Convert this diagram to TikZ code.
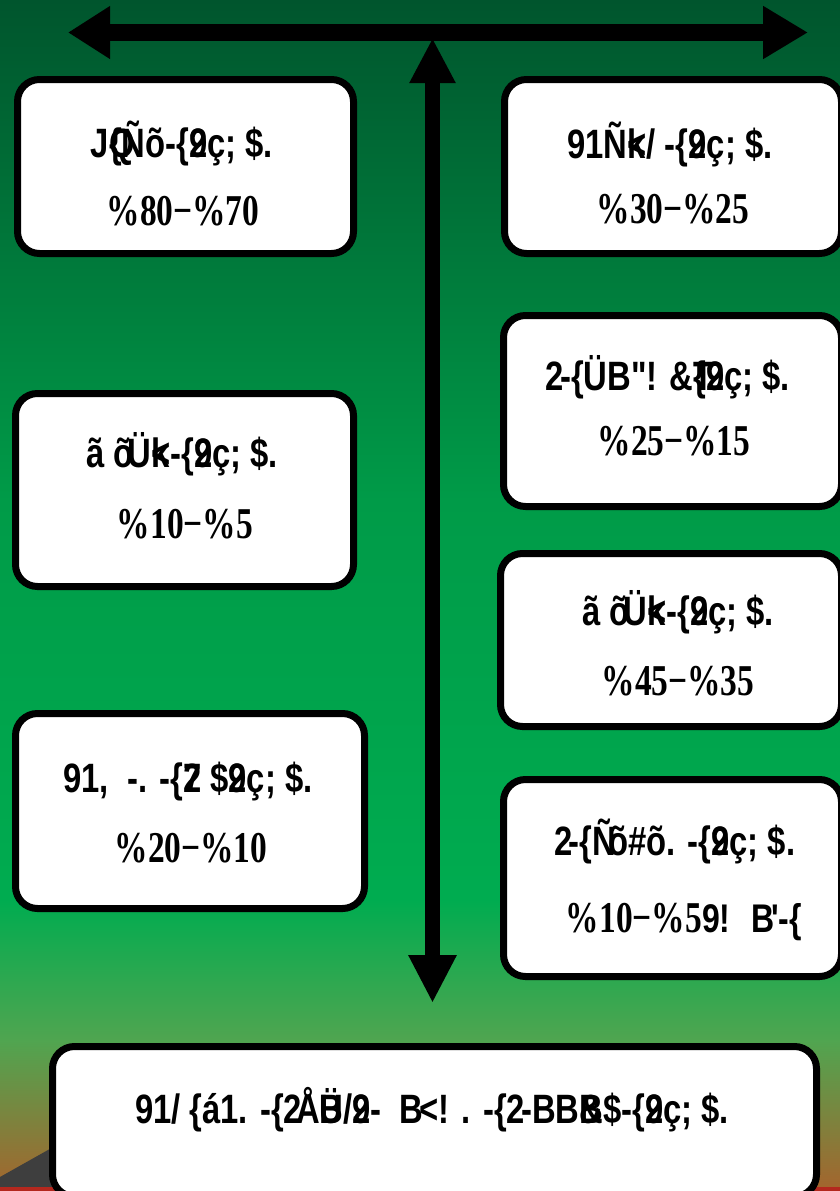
\documentclass[tikz,border=0pt]{standalone}
\usepackage{fontspec}
\usetikzlibrary{arrows.meta}
\newfontfamily\headfont{Liberation Sans}[UprightFont=* Bold, FakeStretch=0.8, Ligatures=TeXOff]
\newfontfamily\sharefont{Liberation Serif}[UprightFont=* Bold, FakeStretch=0.76]
\newcommand\ovl[2]{\rlap{#1}#2}
\definecolor{skyA}{RGB}{0,85,45}
\definecolor{skyB}{RGB}{0,155,72}
\definecolor{skyC}{RGB}{0,172,80}
\definecolor{skyD}{RGB}{80,165,80}
\definecolor{skyE}{RGB}{165,100,45}
\definecolor{rock}{RGB}{62,62,62}
\definecolor{ground}{RGB}{180,40,30}
\tikzset{
  panel/.style={draw=black, line width=7pt, fill=white, rounded corners=22pt, inner sep=0pt},
  headtext/.style={anchor=base, font=\headfont\fontsize{41}{41}\selectfont},
  sharetext/.style={anchor=base, font=\sharefont\fontsize{44}{44}\selectfont}
}
\begin{document}
\begin{tikzpicture}[x=1pt,y=-1pt]
    \clip (0,0) rectangle (840,1191);
    % background
    \shade[top color=skyA, bottom color=skyB] (0,0) rectangle (840,501);
    \shade[top color=skyB, bottom color=skyC] (0,500) rectangle (840,901);
    \shade[top color=skyC, bottom color=skyD] (0,900) rectangle (840,1041);
    \shade[top color=skyD, bottom color=skyE] (0,1040) rectangle (840,1191);
    \fill[rock] (0,1177) -- (48,1150) -- (110,1115) -- (110,1191) -- (0,1191) -- cycle;
    \fill[ground] (0,1187) rectangle (840,1191);
    % arrows
    \coordinate (hl) at (68,32.5);
    \coordinate (hr) at (808,32.5);
    \coordinate (vt) at (432.5,38);
    \coordinate (vb) at (432.5,1003);
    \draw[line width=17pt, {Triangle[length=42pt,width=50pt]}-{Triangle[length=45pt,width=50pt]}] (hl) -- (hr);
    \draw[line width=15pt, {Triangle[length=45pt,width=43pt]}-{Triangle[length=48pt,width=45pt]}] (vt) -- (vb);
    % left column
    \node[panel, minimum width=336pt, minimum height=174pt] (l1) at (185.5,166.5) {};
    \node[headtext] (l1h) at (182,157) {J\ovl{Q}{\{}Ñõ-\{\ovl{2}{9}ç; \$.};
    \node[sharetext] (l1s) at (183,225) {\%80−\%70};
    \node[panel, minimum width=338pt, minimum height=193pt] (l2) at (184.5,490) {};
    \node[headtext] (l2h) at (182,467) {ã õ\kern-6pt Ü\ovl{k}{<}-\{\ovl{2}{9}ç; \$.};
    \node[sharetext] (l2s) at (185,538) {\%10−\%5};
    \node[panel, minimum width=349pt, minimum height=195pt] (l3) at (190,811) {};
    \node[headtext] (l3h) at (188,792) {91, \ -. -\{\ovl{7}{2} \$\ovl{2}{9}ç; \$.};
    \node[sharetext] (l3s) at (191,862) {\%20−\%10};
    % right column
    \node[panel, minimum width=337pt, minimum height=174pt] (r1) at (673,166.5) {};
    \node[headtext] (r1h) at (670,158) {91Ñ\ovl{k}{<}/ -\{\ovl{2}{9}ç; \$.};
    \node[sharetext] (r1s) at (673,223) {\%30−\%25};
    \node[panel, minimum width=338pt, minimum height=191pt] (r2) at (672.5,411) {};
    \node[headtext] (r2h) at (668,390) {2\kern-4pt-\{ÜB"! \&\ovl{T}{\{}\ovl{2}{9}ç; \$.};
    \node[sharetext] (r2s) at (674,455) {\%25−\%15};
    \node[panel, minimum width=341pt, minimum height=173pt] (r3) at (671,640) {};
    \node[headtext] (r3h) at (678,625) {ã õ\kern-6pt Ü\ovl{k}{<}-\{\ovl{2}{9}ç; \$.};
    \node[sharetext] (r3s) at (678,695) {\%45−\%35};
    \node[panel, minimum width=338pt, minimum height=197pt] (r4) at (672.5,878) {};
    \node[headtext] (r4h) at (675,855) {2\kern-4pt-\{Ñ\kern-8pt õ\#õ. -\{\ovl{2}{9}ç; \$.};
    \node[sharetext] (r4s) at (684,932) {\%10−\%5{\headfont\fontsize{40}{40}\selectfont 9! \ B\kern-3pt'-\{}};
    % bottom
    \node[panel, minimum width=764pt, minimum height=150pt] (base) at (434.5,1121.5) {};
    \node[headtext] (baseh) at (432,1123) {91/ \{á1. -\{2\kern-6pt Å\ovl{Ü}{B}/\ovl{2}{9}- \ B\kern-4pt<! . -\{2\kern-4pt-BB\ovl{B}{\&}\$-\{\ovl{2}{9}ç; \$.};
\end{tikzpicture}
\end{document}
